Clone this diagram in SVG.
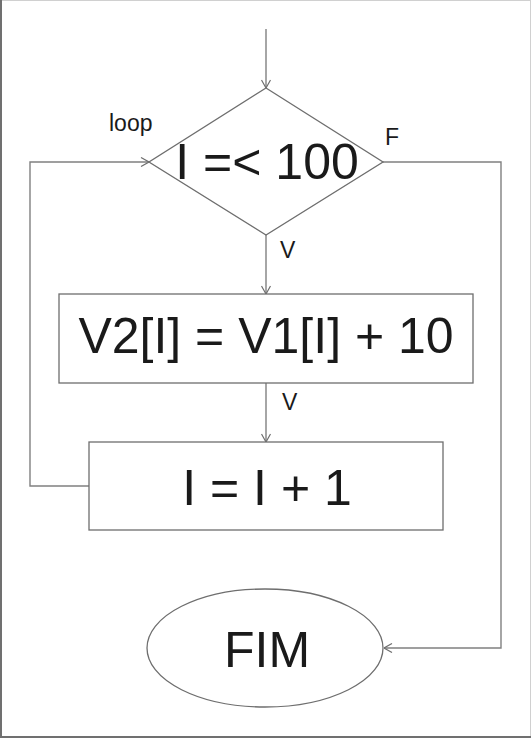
<svg xmlns="http://www.w3.org/2000/svg" width="531" height="738" viewBox="0 0 531 738">
<style>
.shape{fill:none;stroke:#6e6e6e;stroke-width:1.3}
.conn{fill:none;stroke:#808080;stroke-width:1.4}
.big{font-family:"Liberation Sans",Arial,sans-serif;font-size:50px;fill:#1a1a1a;text-anchor:middle}
.lbl{font-family:"Liberation Sans",Arial,sans-serif;font-size:23px;fill:#1a1a1a}
</style>
<defs>
<marker id="arr" viewBox="0 0 10 10" refX="10" refY="5" markerWidth="10" markerHeight="10" markerUnits="userSpaceOnUse" orient="auto">
<path d="M2,0.5 L10,5 L2,9.5" fill="none" stroke="#6e6e6e" stroke-width="1.2"/>
</marker>
</defs>
<rect x="0" y="0" width="531" height="738" fill="#ffffff"/>
<line x1="0" y1="0.5" x2="531" y2="0.5" stroke="#d0d0d0" stroke-width="1"/>
<line x1="530.5" y1="0" x2="530.5" y2="738" stroke="#d0d0d0" stroke-width="1"/>
<line x1="1" y1="0" x2="1" y2="738" stroke="#707070" stroke-width="2"/>
<line x1="0" y1="737" x2="531" y2="737" stroke="#707070" stroke-width="2"/>
<g id="connectors">
<line class="conn" x1="266" y1="29" x2="266" y2="88" marker-end="url(#arr)"/>
<line class="conn" x1="266" y1="235" x2="266" y2="294" marker-end="url(#arr)"/>
<line class="conn" x1="266" y1="383" x2="266" y2="442" marker-end="url(#arr)"/>
<polyline class="conn" points="89,486 30,486 30,162 149,162" marker-end="url(#arr)"/>
<polyline class="conn" points="383,162 501,162 501,648 384,648" marker-end="url(#arr)"/>
<text class="lbl" x="109" y="131">loop</text>
<text class="lbl" x="385" y="145">F</text>
<text class="lbl" x="280" y="258">V</text>
<text class="lbl" x="282" y="410">V</text>
</g>
<g id="decision">
<polygon class="shape" points="266,88 383,162 266,235 149,162"/>
<text class="big" x="267" y="179">I =&lt; 100</text>
</g>
<g id="assign">
<rect class="shape" x="59" y="294" width="414" height="89"/>
<text class="big" x="266" y="353">V2[I] = V1[I] + 10</text>
</g>
<g id="increment">
<rect class="shape" x="89" y="442" width="354" height="88"/>
<text class="big" x="267" y="505">I = I + 1</text>
</g>
<g id="end">
<ellipse class="shape" cx="265" cy="648" rx="118" ry="59"/>
<text class="big" x="267" y="667">FIM</text>
</g>
</svg>
